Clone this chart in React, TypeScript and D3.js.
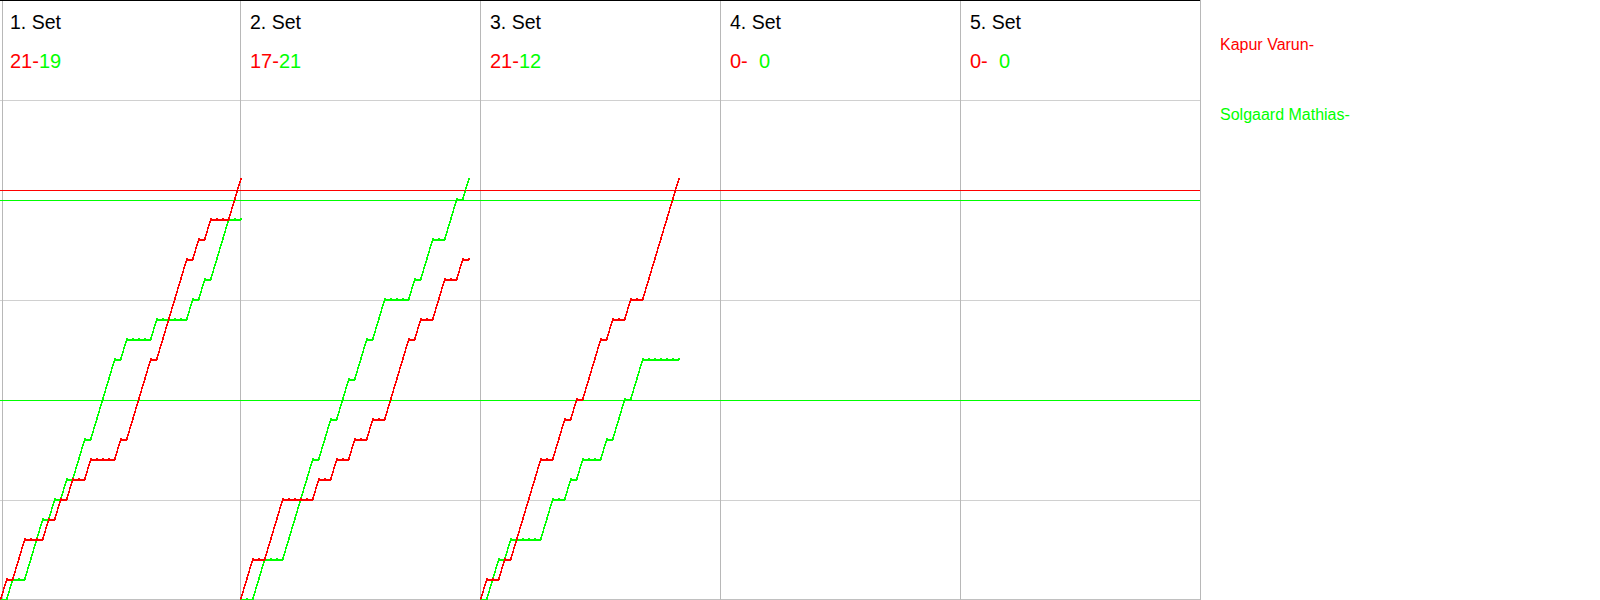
import React from "react";
import * as d3 from "d3";

// ---- data ----
const setLabels = ["1. Set", "2. Set", "3. Set", "4. Set", "5. Set"];
const playerNames = ["Kapur Varun-", "Solgaard Mathias-"];
const playerCodes = ["K", "S"];
const playerColors = ["#ff0000", "#00ff00"];

// winner of each rally (K = Kapur Varun, S = Solgaard Mathias)
const set1Rallies = "KSKKSSSKSKSKSSKSSSSKSKKKKSKKKKKSKSKSSSKK".split("");
const set2Rallies = "KKSSKKKSSSSSKSSKSSKSSKSSKKKKSKSSKKSSKS".split("");
const set3Rallies = "KSSKSKKKKKSSKKSKSKKKSKSSKSSKKKKKK".split("");
const set4Rallies: string[] = [];
const set5Rallies: string[] = [];
const setRallies = [set1Rallies, set2Rallies, set3Rallies, set4Rallies, set5Rallies];

const gridScores = [5, 10, 15, 20, 25];
const refLineScores = [20.5, 20, 10];
const refLineColors = ["#ff0000", "#00ff00", "#00ff00"];

const W = 1600;
const H = 600;
const CHART_W = 1200;
const FONT = "'Liberation Sans', Arial, Helvetica, sans-serif";

export default function App() {
  const panelX = d3.scaleLinear().domain([0, 5]).range([0, CHART_W]);
  const rallyX = d3.scaleLinear().domain([0, 40]).range([0, 240]);
  const y = d3.scaleLinear().domain([0, 30]).range([H, 0]);

  const line = d3
    .line<[number, number]>()
    .x((d) => d[0])
    .y((d) => d[1]);

  const panels = setRallies.map((rallies, k) => {
    const x0 = panelX(k) + 0.5;
    const series = playerCodes.map((code) => {
      let s = 0;
      const pts: [number, number][] = [[x0 + rallyX(0), y(0)]];
      rallies.forEach((w, i) => {
        if (w === code) s += 1;
        pts.push([x0 + rallyX(i + 1), y(s)]);
      });
      return { pts, final: s };
    });
    return { x0, series, n: rallies.length };
  });

  return (
    <div style={{ position: "fixed", left: 0, top: 0, width: W, height: H, background: "#fff" }}>
      <svg width={W} height={H} style={{ display: "block" }} fontFamily={FONT}>
        <rect x={0} y={0} width={W} height={H} fill="#fff" />
        {/* horizontal gridlines */}
        {gridScores.map((g) => (
          <line key={"g" + g} x1={0} x2={CHART_W} y1={Math.round(y(g)) + 0.5} y2={Math.round(y(g)) + 0.5}
            stroke="#d0d0d0" strokeWidth={1} shapeRendering="crispEdges" />
        ))}
        {/* bottom border */}
        <line x1={0} x2={CHART_W} y1={H - 0.5} y2={H - 0.5} stroke="#c0c0c0" strokeWidth={1} shapeRendering="crispEdges" />
        {/* header separator */}
        <line x1={0} x2={CHART_W} y1={y(25) + 0.5} y2={y(25) + 0.5} stroke="#d0d0d0" strokeWidth={1} shapeRendering="crispEdges" />
        {/* vertical panel separators */}
        {d3.range(0, 6).map((k) => {
          const xv = k === 0 ? 2.5 : panelX(k) + 0.5;
          return (
            <line key={"v" + k} x1={xv} x2={xv} y1={0} y2={H} stroke="#b8b8b8" strokeWidth={1} shapeRendering="crispEdges" />
          );
        })}
        {/* top border */}
        <line x1={0} x2={CHART_W} y1={0.5} y2={0.5} stroke="#000" strokeWidth={1} shapeRendering="crispEdges" />
        {/* reference lines */}
        {refLineScores.map((s, i) => (
          <line key={"r" + i} x1={0} x2={CHART_W} y1={y(s) + 0.5} y2={y(s) + 0.5}
            stroke={refLineColors[i]} strokeWidth={1} shapeRendering="crispEdges" />
        ))}
        {/* panel headers */}
        {panels.map((p, k) => (
          <g key={"h" + k}>
            <text x={panelX(k) + 10} y={29} fontSize={19.5} fill="#000">{setLabels[k]}</text>
            <text x={panelX(k) + 10} y={68} fontSize={20} fill={playerColors[0]}>{p.series[0].final + "-"}</text>
            <text x={panelX(k) + 39} y={68} fontSize={20} fill={playerColors[1]}>{String(p.series[1].final)}</text>
          </g>
        ))}
        {/* score progressions: green first, red on top */}
        {[1, 0].map((pi) =>
          panels.map((p, k) =>
            p.n > 0 ? (
              <g key={"s" + pi + "-" + k}>
                <path d={line(p.series[pi].pts) || ""} fill="none" stroke={playerColors[pi]} strokeWidth={1.5}
                  shapeRendering="crispEdges" />
                {p.series[pi].pts.slice(1).map((pt, i) => (
                  <rect key={i} x={Math.round(pt[0]) - 1} y={Math.round(pt[1]) - 2} width={2} height={2}
                    fill={playerColors[pi]} shapeRendering="crispEdges" />
                ))}
              </g>
            ) : null
          )
        )}
        {/* legend */}
        {playerNames.map((name, i) => (
          <text key={"l" + i} x={1220} y={50 + i * 70} fontSize={16} fill={playerColors[i]}>{name}</text>
        ))}
      </svg>
    </div>
  );
}
